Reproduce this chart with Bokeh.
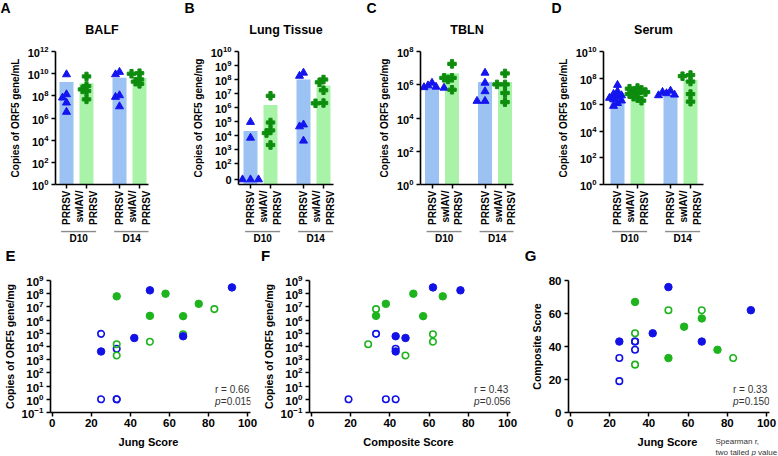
import math
from bokeh.plotting import figure
from bokeh.layouts import column, row
from bokeh.models import Range1d, FixedTicker, Label, ColumnDataSource
from bokeh.embed import file_html
from bokeh.resources import INLINE
from bokeh.core.properties import value

FONT = "Liberation Sans"

# ------------------------------------------------------------------ data
bar_groups = ["PRRSV", "swIAV/\nPRRSV", "PRRSV", "swIAV/\nPRRSV"]
day_labels = ["D10", "D14"]
panel_letters_top = ["A", "B", "C", "D"]
panel_titles = ["BALF", "Lung Tissue", "TBLN", "Serum"]
panel_letters_bottom = ["E", "F", "G"]
scatter_xlabels = ["Jung Score", "Composite Score", "Jung Score"]

# A - BALF (copies of ORF5 gene / mL)
balf_prrsv_d10 = [8.5e9, 1.35e8, 6.8e7, 2.4e7, 3.5e6]
balf_swiav_d10 = [5.6e9, 7.6e8, 3.8e8, 2.7e8, 4.8e7]
balf_prrsv_d14 = [1.4e10, 8.5e9, 1.1e8, 7.8e7, 1.1e7]
balf_swiav_d14 = [1.1e10, 9.8e9, 3.0e9, 1.9e9, 1.2e9]
balf_means = [1.8e9, 1.4e9, 4.3e9, 4.0e9]

# B - Lung tissue (copies / mg); order matches the score lists below
lung_prrsv_d10 = [9.1e4, 6.8e3, 0, 0, 0]
lung_swiav_d10 = [6.8e6, 1.5e4, 2.1e3, 2.3e4, 8.5e4]
lung_prrsv_d14 = [3.0e8, 1.8e8, 6.0e4, 4.4e4, 4.2e3]
lung_swiav_d14 = [1.0e8, 6.3e7, 1.7e7, 2.1e6, 2.0e6]
lung_means = [2.1e4, 1.5e6, 9.8e7, 3.8e7]

# C - TBLN (copies / mg)
tbln_prrsv_d10 = [1.3e6, 9.0e5, 7.5e5, 7.0e5, 6.5e5]
tbln_swiav_d10 = [1.8e7, 2.6e6, 2.1e6, 2.6e6, 5.0e5]
tbln_prrsv_d14 = [5.2e6, 1.3e6, 4.0e5, 1.05e5, 1.05e5]
tbln_swiav_d14 = [4.8e6, 1.05e6, 1.05e6, 3.2e5, 9.0e4]
tbln_means = [8.0e5, 5.0e6, 1.45e6, 1.45e6]

# D - Serum (copies / mL)
serum_prrsv_d10 = [3.0e7, 1.0e7, 6.3e6, 5.0e6, 4.0e6, 3.2e6, 2.5e6, 2.0e6, 1.3e6, 8.0e5]
serum_swiav_d10 = [1.8e7, 1.6e7, 1.3e7, 1.0e7, 8.9e6, 7.9e6, 6.3e6, 4.0e6, 3.2e6, 2.0e6]
serum_prrsv_d14 = [1.1e7, 8.9e6, 7.1e6, 5.6e6, 5.0e6]
serum_swiav_d14 = [1.7e8, 1.4e8, 5.5e7, 6.3e6, 1.7e6]
serum_means = [8.0e6, 1.1e7, 4.5e6, 7.5e7]

# E-G - lesion scores (same animal order as the lung lists)
jung_prrsv_d10 = [25, 33, 25, 33, 33]
comp_prrsv_d10 = [33, 43, 19, 38, 43]
jung_swiav_d10 = [83, 33, 33, 50, 67]
comp_swiav_d10 = [33, 29, 48, 62, 62]
jung_prrsv_d14 = [92, 50, 67, 42, 25]
comp_prrsv_d14 = [62, 76, 43, 48, 43]
jung_swiav_d14 = [58, 33, 75, 50, 67]
comp_swiav_d14 = [52, 67, 38, 33, 57]

stats_E = ("r = 0.66", "=0.015")
stats_F = ("r = 0.43", "=0.056")
stats_G = ("r = 0.33", "=0.150")
footnote_plain = ["Spearman r,", "two tailed", "value"]
footnote_italic = ["p"]

# ------------------------------------------------------------------ style
BLUE_BAR = "#9CC2F4"
GREEN_BAR = "#A9F3A9"
BLUE_PT = "#1414EE"
GREEN_PT = "#0E8C0E"
BLUE_SC = "#1212E6"
GREEN_SC = "#1EB41E"
BAR_X = [1.0, 2.0, 3.65, 4.65]

W = 778
HEAD_T, TOP_H, STRIP_H = 41, 189, 15          # top row: header, plots, day strip
TOP_B, FRAME_H, BOT_B = 10, 133, 46
HEAD_B, BOT_H, FOOT_H = 25, 163, 23           # bottom row: header, plots, footer
B_TOP, B_FRAME = 10, 132


def swarm(vals, ylo, ppd, floor, upp=20.0, size=4.2, step=4.0):
    ys = [(math.log10(v if v > 0 else floor) - math.log10(ylo)) * ppd for v in vals]
    order = sorted(range(len(vals)), key=lambda i: -ys[i])
    cands = [0]
    for k in range(1, 10):
        cands += [-k, k]
    placed, offs = [], [0.0] * len(vals)
    for i in order:
        x = 0.0
        for k in cands:
            x = k * step
            if all(math.hypot(x - px, ys[i] - py) >= size for px, py in placed):
                break
        placed.append((x, ys[i]))
        offs[i] = x / upp
    return offs


def style_axes(p, tick_size="11px"):
    p.axis.axis_line_width = 1.6
    p.axis.axis_line_color = "black"
    p.axis.major_tick_line_width = 1.5
    p.axis.major_tick_line_color = "black"
    p.axis.major_tick_out = 4
    p.axis.major_tick_in = 0
    p.axis.minor_tick_line_color = None
    p.axis.major_label_text_font = FONT
    p.axis.major_label_text_font_style = "bold"
    p.axis.major_label_text_font_size = tick_size
    p.axis.major_label_text_color = "black"
    p.axis.major_label_standoff = 3
    p.axis.axis_label_text_font = FONT
    p.axis.axis_label_text_font_style = "bold"
    p.axis.axis_label_text_color = "black"
    p.grid.visible = False
    p.outline_line_color = None


def blank(width, height, xr, yr, left=0, right=0):
    f = figure(width=width, height=height, x_range=xr, y_range=yr,
               output_backend="svg", toolbar_location=None,
               x_axis_location=None, y_axis_location=None,
               min_border_left=left, min_border_right=right,
               min_border_top=0, min_border_bottom=0)
    f.grid.visible = False
    f.outline_line_color = None
    return f


def texts(f, xs, ys, labels, size, style="bold", align="center", color="black"):
    f.text(x=xs, y=ys, text=labels, text_align=align, text_baseline="middle",
           text_font=value(FONT), text_font_style=style,
           text_font_size=size, text_color=color)


def bar_panel(ylabel, groups, means, ylo, yhi, yticks, fw, left, right, x0, x1, zero_pos=None):
    xr = Range1d(x0, x1)
    p = figure(width=fw, height=TOP_H, x_range=xr, y_range=Range1d(ylo, yhi),
               y_axis_type="log", output_backend="svg", toolbar_location=None,
               min_border_left=left, min_border_right=right,
               min_border_top=TOP_B, min_border_bottom=BOT_B)
    style_axes(p)
    src = ColumnDataSource(dict(x=BAR_X, top=means, bottom=[ylo] * 4,
                                color=[BLUE_BAR, GREEN_BAR, BLUE_BAR, GREEN_BAR]))
    p.vbar(x="x", top="top", bottom="bottom", width=0.7, fill_color="color",
           line_color=None, source=src)
    ppd = FRAME_H / (math.log10(yhi) - math.log10(ylo))
    floor = zero_pos if zero_pos else ylo
    for i, vals in enumerate(groups):
        offs = swarm(vals, ylo, ppd, floor)
        xs = [BAR_X[i] + o for o in offs]
        ys = [v if v > 0 else floor for v in vals]
        if i % 2 == 0:
            p.scatter(xs, ys, marker="triangle", size=8, fill_color=BLUE_PT, line_color=BLUE_PT)
        else:
            p.scatter(xs, ys, marker="plus", size=8.5, fill_color=GREEN_PT, line_color=GREEN_PT)
    p.yaxis.ticker = FixedTicker(ticks=yticks)
    if zero_pos:
        p.yaxis.major_label_overrides = {zero_pos: "0"}
    p.yaxis.axis_label = ylabel
    p.yaxis.axis_label_text_font_size = "10px"
    p.yaxis.axis_label_standoff = 4
    p.xaxis.ticker = FixedTicker(ticks=BAR_X)
    p.xaxis.major_label_overrides = {x: g for x, g in zip(BAR_X, bar_groups)}
    p.xaxis.major_label_orientation = math.pi / 2
    p.xaxis.major_label_text_font_size = "10px"
    p.xaxis.major_label_standoff = 2

    s = blank(fw, STRIP_H, xr, Range1d(0, STRIP_H), left, right)
    a0 = [BAR_X[0] - 0.27, BAR_X[2] - 0.27]
    a1 = [BAR_X[1] + 0.48, BAR_X[3] + 0.48]
    s.segment(x0=a0, x1=a1, y0=[14, 14], y1=[14, 14], line_color="#8a8a8a", line_width=1.5)
    texts(s, [(u + v) / 2 for u, v in zip(a0, a1)], [7, 7], day_labels, "10px")
    return p, s


# (fig width, left border, right border, x0, x1)
top_specs = [(183, 55, 35, 0.45, 5.1), (182, 55, 32, 0.4, 5.15),
             (185, 55, 37, 0.425, 5.075), (228, 53, 75, 0.3, 5.3)]
top_data = [
    ("Copies of ORF5 gene/mL", [balf_prrsv_d10, balf_swiav_d10, balf_prrsv_d14, balf_swiav_d14],
     balf_means, 1, 1e12, [10.0 ** k for k in range(0, 13, 2)], None),
    ("Copies of ORF5 gene/mg", [lung_prrsv_d10, lung_swiav_d10, lung_prrsv_d14, lung_swiav_d14],
     lung_means, 10 ** 0.5, 1e10, [10 ** 0.857] + [10.0 ** k for k in range(2, 11)], 10 ** 0.857),
    ("Copies of ORF5 gene/mg", [tbln_prrsv_d10, tbln_swiav_d10, tbln_prrsv_d14, tbln_swiav_d14],
     tbln_means, 1, 1e8, [10.0 ** k for k in range(0, 9, 2)], None),
    ("Copies of ORF5 gene/mL", [serum_prrsv_d10, serum_swiav_d10, serum_prrsv_d14, serum_swiav_d14],
     serum_means, 1, 1e10, [10.0 ** k for k in range(0, 11, 2)], None),
]
plots, strips, title_x, letter_x = [], [], [], []
xpos = 0
letter_dx = [5, 6, 6, 6]
for (fw, l, r, x0, x1), (yl, grp, mn, lo, hi, tk, zp), ldx in zip(top_specs, top_data, letter_dx):
    p, s = bar_panel(yl, grp, mn, lo, hi, tk, fw, l, r, x0, x1, zp)
    plots.append(p)
    strips.append(s)
    title_x.append(xpos + l + (fw - l - r) / 2)
    letter_x.append(xpos + ldx)
    xpos += fw

head_top = blank(W, HEAD_T, Range1d(0, W), Range1d(HEAD_T, 0))
texts(head_top, letter_x, [7.5] * 4, panel_letters_top, "14px")
texts(head_top, title_x, [29] * 4, panel_titles, "12.5px")

top = column(head_top,
             row(*[column(p, s, spacing=0) for p, s in zip(plots, strips)], spacing=0),
             spacing=0)


def add_label(p, x, y, text, size, italic=False):
    p.add_layout(Label(x=x, y=y, x_units="screen", y_units="screen", text=text,
                       text_font=FONT, text_font_style="italic" if italic else "normal",
                       text_font_size=size, text_align="left", text_baseline="middle",
                       text_color="#333333"))


def scatter_panel(xsets, ysets, ylog, ylo, yhi, yticks, ylabel, fw, left, right, stats):
    kw = dict(y_axis_type="log") if ylog else {}
    p = figure(width=fw, height=BOT_H, x_range=Range1d(-0.9, 101.5), y_range=Range1d(ylo, yhi),
               output_backend="svg", toolbar_location=None,
               min_border_left=left, min_border_right=right,
               min_border_top=B_TOP, min_border_bottom=BOT_H - B_TOP - B_FRAME, **kw)
    style_axes(p, "11.5px")
    p.xaxis.major_label_standoff = 2
    styles = [(BLUE_SC, False), (GREEN_SC, False), (BLUE_SC, True), (GREEN_SC, True)]
    for (col, filled), xs, ys in zip(styles, xsets, ysets):
        yy = [v if v > 0 else 1 for v in ys] if ylog else ys
        if filled:
            p.scatter(xs, yy, marker="circle", size=7.5, fill_color=col, line_color=col)
        else:
            p.scatter(xs, yy, marker="circle", size=6.5, fill_color=None, line_color=col,
                      line_width=1.6)
    p.xaxis.ticker = FixedTicker(ticks=[0, 20, 40, 60, 80, 100])
    p.yaxis.ticker = FixedTicker(ticks=yticks)
    p.yaxis.axis_label = ylabel
    p.yaxis.axis_label_text_font_size = "10.5px"
    p.yaxis.axis_label_standoff = 3
    add_label(p, 164.5, 23, stats[0], "10px")
    add_label(p, 164.5, 11.5, "p", "10px", italic=True)
    add_label(p, 170.3, 11.5, stats[1], "10px")
    return p


# (fig width, left border, right border)
bot_specs = [(258, 49, 8), (260, 51, 8), (260, 50, 9)]
log_ticks = [10.0 ** k for k in range(-1, 10)]
E = scatter_panel([jung_prrsv_d10, jung_swiav_d10, jung_prrsv_d14, jung_swiav_d14],
                  [lung_prrsv_d10, lung_swiav_d10, lung_prrsv_d14, lung_swiav_d14], True,
                  0.1, 1e9, log_ticks, "Copies of ORF5 gene/mg", *bot_specs[0], stats_E)
F = scatter_panel([comp_prrsv_d10, comp_swiav_d10, comp_prrsv_d14, comp_swiav_d14],
                  [lung_prrsv_d10, lung_swiav_d10, lung_prrsv_d14, lung_swiav_d14], True,
                  0.1, 1e9, log_ticks, "Copies of ORF5 gene/mg", *bot_specs[1], stats_F)
G = scatter_panel([jung_prrsv_d10, jung_swiav_d10, jung_prrsv_d14, jung_swiav_d14],
                  [comp_prrsv_d10, comp_swiav_d10, comp_prrsv_d14, comp_swiav_d14], False,
                  0, 80, [0, 20, 40, 60, 80], "Composite Score", *bot_specs[2], stats_G)

xlab_x, bletter_x = [], []
xpos = 0
for (fw, l, r), ldx in zip(bot_specs, [10, 7, 12]):
    xlab_x.append(xpos + l + (fw - l - r - 3) / 2)
    bletter_x.append(xpos + ldx)
    xpos += fw

head_bot = blank(W, HEAD_B, Range1d(0, W), Range1d(HEAD_B, 0))
texts(head_bot, bletter_x, [10] * 3, panel_letters_bottom, "15px")

foot = blank(W, FOOT_H, Range1d(0, W), Range1d(FOOT_H, 0))
texts(foot, xlab_x, [8] * 3, scatter_xlabels, "11px")
texts(foot, [715, 715, 757.5], [8, 18.5, 18.5], footnote_plain, "8px", style="normal",
      align="left", color="#333333")
texts(foot, [751], [18.5], footnote_italic, "8px", style="italic", align="left", color="#333333")

layout = column(top, head_bot, row(E, F, G, spacing=0), foot, spacing=0)
open("out.html", "w").write(file_html(layout, INLINE))
